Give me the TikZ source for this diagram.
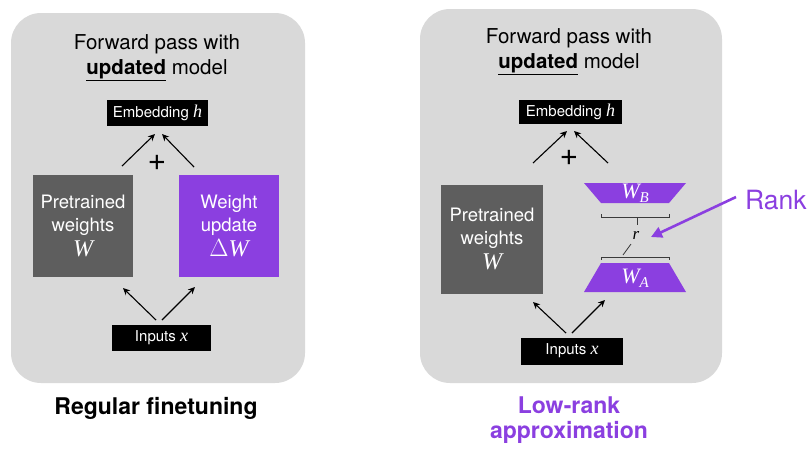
\documentclass[tikz,border=0pt]{standalone}
\usepackage{fontspec}
\setmainfont{TeX Gyre Heros}
\newfontfamily\tms{Liberation Serif}
\usetikzlibrary{arrows.meta}
\definecolor{panelgray}{HTML}{D9D9D9}
\definecolor{darkbox}{HTML}{5E5E5E}
\definecolor{lorapurple}{HTML}{8B3FE0}
\definecolor{rankline}{HTML}{3A3A3A}
\newcommand\mv[1]{{\tms\itshape #1}}
\newcommand\bigmv[1]{{\fontsize{24}{24}\selectfont\tms\itshape #1}}
\newcommand\smallmv[1]{{\fontsize{18}{18}\selectfont\tms\itshape #1}}

\tikzset{
  panel/.style={fill=panelgray, draw=none, rounded corners=30pt},
  blackbox/.style={fill=black, text=white, inner sep=0pt,
    minimum width=101pt, minimum height=26pt,
    font=\fontsize{15}{18}\selectfont},
  weightbox/.style={text=white, inner sep=0pt, align=center,
    minimum width=100pt, minimum height=102pt,
    font=\fontsize{18.5}{22.5}\selectfont},
  title/.style={align=center, font=\fontsize{20.5}{25}\selectfont},
  caption/.style={align=center, font=\fontsize{23}{25}\selectfont\bfseries},
  arr/.style={-{Stealth[length=7pt,width=6.5pt]}, line width=1.1pt},
  plus/.style={font=\fontsize{32}{32}\selectfont, inner sep=0pt},
  trap/.style={fill=lorapurple},
  rankmark/.style={draw=rankline, line width=0.8pt},
}

\begin{document}
\begin{tikzpicture}[x=1pt,y=-1pt]
\useasboundingbox (0,0) rectangle (811,448);

% ---------- left panel: regular finetuning ----------
\fill[panel] (11,13) rectangle (305,383);
\node[title] (ttlL) at (157,58) {Forward pass with\\\underline{\textbf{updated}} model};
\node[blackbox] (embL) at (157.5,113) {Embedding \smallmv{h}};
\node[weightbox, fill=darkbox] (preL) at (83,226) {Pretrained\\weights\\[3pt]\bigmv{W}};
\node[weightbox, fill=lorapurple] (updL) at (229,226) {Weight\\update\\[3pt]{\fontsize{24}{24}\selectfont\tms$\Delta$}\bigmv{W}};
\node[blackbox, minimum width=99pt] (inL) at (161.5,338) {Inputs \smallmv{x}};
\node[plus] (plusL) at (157,163) {+};

\coordinate (aL1s) at (122,166); \coordinate (aL1e) at (155,134);
\coordinate (aL2s) at (194,167); \coordinate (aL2e) at (162,134);
\coordinate (bL1s) at (156,320); \coordinate (bL1e) at (123,288);
\coordinate (bL2s) at (162,320); \coordinate (bL2e) at (195,287);
\draw[arr] (aL1s) -- (aL1e);
\draw[arr] (aL2s) -- (aL2e);
\draw[arr] (bL1s) -- (bL1e);
\draw[arr] (bL2s) -- (bL2e);

\node[caption] (capL) at (156,408) {Regular finetuning};

% ---------- right panel: low-rank approximation ----------
\fill[panel] (420,9) rectangle (722,383);
\node[title] (ttlR) at (569,52) {Forward pass with\\\underline{\textbf{updated}} model};
\node[blackbox, minimum width=103pt, minimum height=24pt] (embR) at (570.5,112) {Embedding \smallmv{h}};
\node[weightbox, fill=darkbox, minimum width=102pt, minimum height=109pt] (preR) at (492,239) {Pretrained\\weights\\[3pt]\bigmv{W}};
\node[blackbox, minimum width=102pt, minimum height=27pt] (inR) at (572,351) {Inputs \smallmv{x}};
\node[plus] (plusR) at (569,158) {+};

% the two low-rank factors
\fill[trap] (584,183) -- (686,183) -- (669,203) -- (601,203) -- cycle;
\fill[trap] (601,263) -- (669,263) -- (686,292) -- (584,292) -- cycle;
\node[text=white, font=\fontsize{22}{22}\selectfont] (wb) at (635,193)
  {\mv{W}\raisebox{-0.35ex}{\fontsize{15}{15}\selectfont\mv{B}}};
\node[text=white, font=\fontsize{22}{22}\selectfont] (wa) at (635,278)
  {\mv{W}\raisebox{-0.35ex}{\fontsize{15}{15}\selectfont\mv{A}}};

% rank dimension marks
\draw[rankmark] (601,214) -- (601,217) -- (669,217) -- (669,214);
\draw[rankmark] (637,217) -- (637,225);
\node[font=\fontsize{17}{17}\selectfont, inner sep=0pt] (rr) at (636,235) {\mv{r}};
\draw[rankmark] (631,244) -- (623,255);
\draw[rankmark] (601,260) -- (601,257) -- (669,257) -- (669,260);

\coordinate (aR1s) at (533,163); \coordinate (aR1e) at (567,131);
\coordinate (aR2s) at (608,163); \coordinate (aR2e) at (574,131);
\coordinate (bR1s) at (566,333); \coordinate (bR1e) at (533,302);
\coordinate (bR2s) at (572,333); \coordinate (bR2e) at (605,300);
\draw[arr] (aR1s) -- (aR1e);
\draw[arr] (aR2s) -- (aR2e);
\draw[arr] (bR1s) -- (bR1e);
\draw[arr] (bR2s) -- (bR2e);

% rank annotation
\node[text=lorapurple, font=\fontsize{26.5}{26.5}\selectfont, anchor=west, inner sep=0pt] (rank) at (745,200) {Rank};
\coordinate (rankTip) at (651,237);
\draw[lorapurple, line width=2.6pt, -{Triangle[length=11pt,width=11pt]}] (rank.west) ++(-9,-3) -- (rankTip);

\node[caption, text=lorapurple] (capR) at (569,420) {Low-rank\\approximation};
\end{tikzpicture}
\end{document}
